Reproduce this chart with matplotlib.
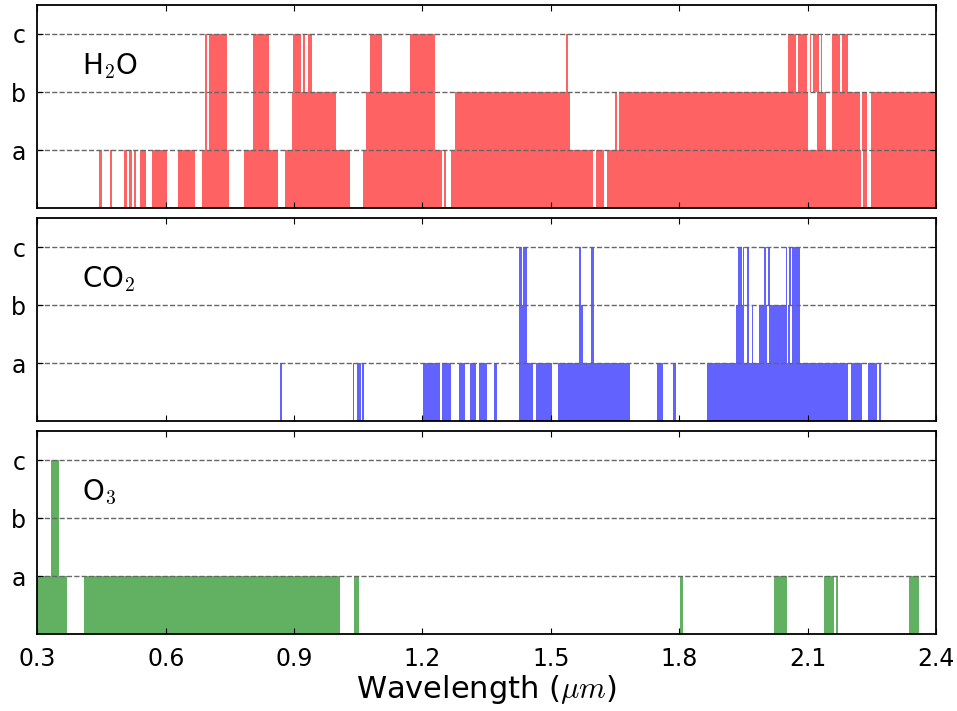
import matplotlib
matplotlib.use('Agg')
import matplotlib.pyplot as plt

# detection bands, (start, end) in micron, one list per level a/b/c
h2o_a = [(0.445, 0.450), (0.471, 0.475), (0.503, 0.510), (0.515, 0.522), (0.527, 0.531),
         (0.541, 0.555), (0.569, 0.604), (0.629, 0.669), (0.686, 0.749), (0.784, 0.863),
         (0.879, 1.031), (1.062, 1.246), (1.251, 1.256), (1.267, 1.599), (1.606, 1.625),
         (1.632, 2.225), (2.230, 2.239), (2.249, 2.400)]
h2o_b = [(0.693, 0.697), (0.702, 0.744), (0.805, 0.842), (0.896, 0.999), (1.069, 1.230),
         (1.277, 1.545), (1.650, 1.655), (1.660, 2.101), (2.122, 2.143), (2.157, 2.223),
         (2.228, 2.239), (2.249, 2.400)]
h2o_c = [(0.693, 0.697), (0.702, 0.744), (0.805, 0.842), (0.898, 0.917), (0.921, 0.926),
         (0.933, 0.943), (1.078, 1.106), (1.171, 1.230), (1.536, 1.541), (2.055, 2.073),
         (2.078, 2.099), (2.106, 2.108), (2.113, 2.127), (2.132, 2.134), (2.157, 2.176),
         (2.181, 2.195)]

co2_a = [(0.868, 0.872), (1.038, 1.041), (1.048, 1.057), (1.059, 1.064), (1.202, 1.242),
         (1.246, 1.267), (1.286, 1.300), (1.312, 1.326), (1.333, 1.351), (1.368, 1.375),
         (1.426, 1.459), (1.466, 1.503), (1.517, 1.686), (1.749, 1.763), (1.786, 1.793),
         (1.865, 2.195), (2.202, 2.228), (2.242, 2.263), (2.267, 2.272)]
co2_b = [(1.426, 1.445), (1.566, 1.576), (1.594, 1.601), (1.933, 1.952), (1.959, 1.964),
         (1.971, 1.973), (1.987, 2.006), (2.010, 2.052), (2.055, 2.059), (2.064, 2.083)]
co2_c = [(1.426, 1.433), (1.436, 1.445), (1.566, 1.571), (1.594, 1.601), (1.938, 1.947),
         (1.950, 1.952), (1.959, 1.964), (1.999, 2.003), (2.008, 2.013), (2.050, 2.052),
         (2.057, 2.062), (2.064, 2.083)]

o3_a = [(0.300, 0.370), (0.410, 1.008), (1.041, 1.052), (1.802, 1.809), (2.022, 2.052),
        (2.139, 2.162), (2.167, 2.172), (2.337, 2.361)]
o3_b = [(0.333, 0.351)]
o3_c = [(0.333, 0.351)]

molecules = [r'H$_2$O', r'CO$_2$', r'O$_3$']
bands = [[h2o_a, h2o_b, h2o_c], [co2_a, co2_b, co2_c], [o3_a, o3_b, o3_c]]
colors = ['#ff6262', '#6262ff', '#62b062']
levels = ['a', 'b', 'c']
xticks = [0.3, 0.6, 0.9, 1.2, 1.5, 1.8, 2.1, 2.4]

plt.rcParams['mathtext.fontset'] = 'cm'
plt.rcParams['font.family'] = 'DejaVu Sans'

fig, axes = plt.subplots(3, 1, figsize=(9.57, 7.11), dpi=100, sharex=True)
fig.subplots_adjust(left=0.039, right=0.978, top=0.993, bottom=0.108, hspace=0.049)

for ax, name, mol_bands, col in zip(axes, molecules, bands, colors):
    for i, segs in enumerate(mol_bands):
        ax.broken_barh([(s, e - s) for s, e in segs], (i, 1), facecolor=col, linewidth=0)
    ax.set_xlim(0.3, 2.4)
    ax.set_ylim(0, 3.5)
    ax.set_yticks([1, 2, 3])
    ax.set_yticklabels(levels, fontsize=18)
    ax.set_xticks(xticks)
    ax.grid(axis='y', linestyle='--', color='0.4', linewidth=1.0)
    ax.set_axisbelow(False)
    ax.tick_params(direction='in', top=True, right=True, length=4, labelsize=17)
    ax.tick_params(axis='y', pad=8)
    ax.tick_params(axis='x', pad=9)
    for sp in ax.spines.values():
        sp.set_linewidth(1.3)
    ax.text(0.405, 2.45, name, fontsize=20, va='center', ha='left')

axes[-1].set_xticklabels([str(t) for t in xticks])
axes[-1].set_xlabel(r'Wavelength ($\mu m$)', fontsize=22, labelpad=2)

plt.savefig('out.png', dpi=100)
plt.close()
